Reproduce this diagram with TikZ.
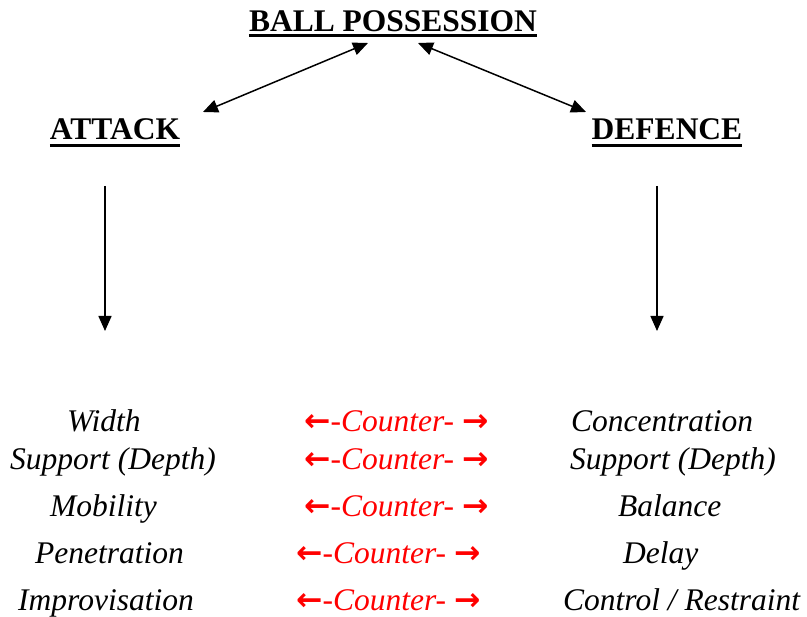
\documentclass[tikz,border=0pt]{standalone}
\usepackage{fontspec}
\setmainfont{Liberation Serif}
\newfontfamily\arrowfont{DejaVu Sans}
\usetikzlibrary{arrows.meta}

\tikzset{
  heading/.style={font=\fontsize{31.5}{36}\selectfont\bfseries, inner sep=0pt, anchor=base},
  principle/.style={font=\fontsize{31.5}{36}\selectfont\itshape, inner sep=0pt, anchor=base west},
  counter/.style={principle, text=red, text depth=0pt},
  ul/.style={line width=3pt},
  link/.style={line width=1.5pt, -{Triangle[length=15pt,width=13pt]}},
  twolink/.style={link, {Triangle[length=15pt,width=13pt]}-{Triangle[length=15pt,width=13pt]}}
}
\newcommand{\ctr}{{\arrowfont\bfseries\upshape ←}-Counter- {\arrowfont\bfseries\upshape →}}

\begin{document}
\begin{tikzpicture}[x=1pt,y=-1pt]
\useasboundingbox (0,0) rectangle (807,617);

% headings
\node[heading] (possession) at (393,32) {BALL POSSESSION};
\node[heading] (attack) at (115,140) {ATTACK};
\node[heading] (defence) at (667,140) {DEFENCE};
\draw[ul] ([yshift=-4pt]possession.base west) -- ([yshift=-4pt]possession.base east);
\draw[ul] ([yshift=-6pt]attack.base west) -- ([yshift=-6pt]attack.base east);
\draw[ul] ([yshift=-6pt]defence.base west) -- ([yshift=-6pt]defence.base east);

% arrows
\coordinate (pos-l) at (368,43);
\coordinate (pos-r) at (418,43);
\coordinate (att-in) at (203,112);
\coordinate (def-in) at (586,112);
\draw[twolink] (pos-l) -- (att-in);
\draw[twolink] (pos-r) -- (def-in);

\coordinate (att-a) at (105,186);
\coordinate (att-b) at (105,331);
\coordinate (def-a) at (657,186);
\coordinate (def-b) at (657,331);
\draw[link] (att-a) -- (att-b);
\draw[link] (def-a) -- (def-b);

% principles
\node[principle] (width) at (67,432) {Width};
\node[counter] (ctr1) at (304,432) {\ctr};
\node[principle] (concentration) at (571,432) {Concentration};

\node[principle] (support-a) at (10,470) {Support (Depth)};
\node[counter] (ctr2) at (304,470) {\ctr};
\node[principle] (support-d) at (570,470) {Support (Depth)};

\node[principle] (mobility) at (50,517) {Mobility};
\node[counter] (ctr3) at (304,517) {\ctr};
\node[principle] (balance) at (618,517) {Balance};

\node[principle] (penetration) at (35,564) {Penetration};
\node[counter] (ctr4) at (296,564) {\ctr};
\node[principle] (delay) at (623,564) {Delay};

\node[principle] (improvisation) at (18,611) {Improvisation};
\node[counter] (ctr5) at (296,611) {\ctr};
\node[principle] (control) at (563,611) {Control / Restraint};
\end{tikzpicture}
\end{document}
